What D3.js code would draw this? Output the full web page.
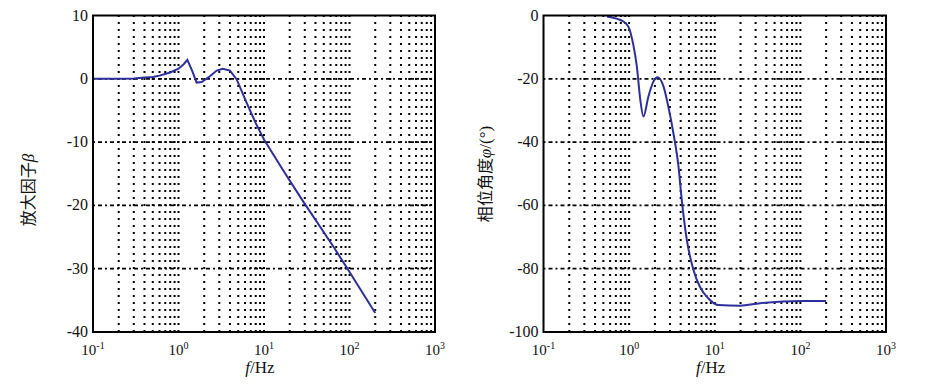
<!DOCTYPE html>
<html>
<head>
<meta charset="utf-8">
<script src="https://cdn.jsdelivr.net/npm/d3@7"></script>
<style>
  body { margin: 0; background: #fff; }
  svg { display: block; }
  .tick-label { font-family: "Liberation Serif", "DejaVu Serif", serif; font-size: 15px; fill: #111; }
  .ytick { font-size: 16px; }
  .axis-title { font-family: "Liberation Serif", serif; font-size: 17px; fill: #111; }
  .cjk { font-family: "Noto Sans CJK SC", sans-serif; font-size: 16px; }
</style>
</head>
<body>
<div id="chart"></div>
<script>
//------------------------------DATA------------------------------//
// amplitude (left panel)
var ampFreq = [0.1, 0.2, 0.3, 0.4, 0.5, 0.6, 0.8, 1.0, 1.15, 1.27, 1.45, 1.63, 1.87, 2.33, 2.8, 3.29, 4.0, 4.79, 5.5, 6.27, 8, 10, 16.8, 28.8, 64.7, 96.8, 200];
var ampBeta = [0, 0, 0.05, 0.2, 0.3, 0.5, 1.0, 1.6, 2.3, 3.0, 1.2, -0.6, -0.5, 0.4, 1.3, 1.6, 1.3, -0.1, -2.0, -3.8, -7.0, -9.6, -14.5, -19.4, -26.5, -30.2, -37];

// phase (right panel)
var phaseFreq = [0.55, 0.86, 0.98, 1.12, 1.23, 1.35, 1.47, 1.68, 1.92, 2.14, 2.52, 2.87, 3.29, 3.77, 4.12, 4.72, 5.64, 6.7, 8.44, 11, 19.8, 33.8, 108, 200];
var phasePhi = [-0.3, -1.9, -3.5, -9.3, -16.1, -26.6, -31.9, -25.6, -20.9, -19.5, -22.4, -28.8, -37.2, -47.7, -58.3, -70.9, -80.4, -85.7, -89.4, -91.5, -91.7, -90.9, -90.2, -90.2];

var decades = [0.1, 1, 10, 100, 1000];
var decadeExp = ["-1", "0", "1", "2", "3"];
var ampTicks = [10, 0, -10, -20, -30, -40];
var phaseTicks = [0, -20, -40, -60, -80, -100];

//------------------------------SVG-------------------------------//
var W = 929, H = 388;
var svg = d3.select("#chart").append("svg")
    .attr("width", W)
    .attr("height", H);

var lineColor = "#2e2f9c";

// minor grid values 2..9 per decade plus decades themselves
var gridX = [];
for (var e = -1; e < 3; e++) {
    for (var m = 1; m <= 9; m++) {
        if (e === -1 && m === 1) continue;
        gridX.push(m * Math.pow(10, e));
    }
}

function drawPanel(opt) {
    var x = d3.scaleLog().domain([0.1, 1000]).range([opt.left, opt.right]);
    var y = d3.scaleLinear().domain(opt.yDomain).range([opt.bottom, opt.top]);
    var g = svg.append("g");

    // vertical dotted grid
    g.selectAll(".vgrid")
        .data(gridX)
        .enter().append("line")
        .attr("x1", function(d) { return x(d); })
        .attr("x2", function(d) { return x(d); })
        .attr("y1", opt.bottom)
        .attr("y2", opt.top)
        .attr("stroke", "#000")
        .attr("stroke-width", 2)
        .attr("stroke-dasharray", "2,5");

    // horizontal grid at the major y ticks
    g.selectAll(".hgrid")
        .data(opt.yTicks.slice(1, -1))
        .enter().append("line")
        .attr("x1", opt.left)
        .attr("x2", opt.right)
        .attr("y1", function(d) { return y(d); })
        .attr("y2", function(d) { return y(d); })
        .attr("stroke", "#000")
        .attr("stroke-width", 1.8)
        .attr("stroke-dasharray", "2,3,4,3");

    // curve
    var line = d3.line()
        .x(function(d) { return x(d[0]); })
        .y(function(d) { return y(d[1]); })
        .curve(opt.curve);

    g.append("path")
        .datum(d3.zip(opt.xs, opt.ys))
        .attr("d", line)
        .attr("fill", "none")
        .attr("stroke", lineColor)
        .attr("stroke-width", 2);

    // frame
    g.append("rect")
        .attr("x", opt.left)
        .attr("y", opt.top)
        .attr("width", opt.right - opt.left)
        .attr("height", opt.bottom - opt.top)
        .attr("fill", "none")
        .attr("stroke", "#000")
        .attr("stroke-width", 2);

    // y tick labels
    g.selectAll(".ylab")
        .data(opt.yTicks)
        .enter().append("text")
        .attr("class", "tick-label ytick")
        .attr("x", opt.left - 5)
        .attr("y", function(d) { return y(d) + 5; })
        .attr("text-anchor", "end")
        .text(function(d) { return d; });

    // x tick labels 10^n
    var xl = g.selectAll(".xlab")
        .data(decades)
        .enter().append("text")
        .attr("class", "tick-label")
        .attr("x", function(d) { return x(d); })
        .attr("y", 355)
        .attr("text-anchor", "middle");
    xl.append("tspan").text("10");
    xl.append("tspan")
        .attr("dy", -6)
        .style("font-size", "10px")
        .text(function(d, i) { return decadeExp[i]; });

    // x axis title
    var xt = g.append("text")
        .attr("class", "axis-title")
        .attr("x", (opt.left + opt.right) / 2 - 4)
        .attr("y", 373)
        .attr("text-anchor", "middle");
    xt.append("tspan").style("font-style", "italic").text("f");
    xt.append("tspan").text("/Hz");

    // y axis title
    var yt = g.append("text")
        .attr("class", "axis-title")
        .attr("transform", "translate(" + opt.yTitleX + "," + opt.yTitleY + ") rotate(-90)")
        .attr("text-anchor", "middle");
    yt.append("tspan").attr("class", "cjk").text(opt.yTitleCjk);
    yt.append("tspan").style("font-style", "italic").text(opt.yTitleSym);
    if (opt.yTitleRest) yt.append("tspan").text(opt.yTitleRest);
}

drawPanel({
    left: 93, right: 435, top: 15.5, bottom: 332,
    yDomain: [-40, 10], yTicks: ampTicks,
    xs: ampFreq, ys: ampBeta, curve: d3.curveLinear,
    yTitleX: 34, yTitleY: 190, yTitleCjk: "放大因子", yTitleSym: "β"
});

drawPanel({
    left: 543.5, right: 886, top: 15.5, bottom: 332,
    yDomain: [-100, 0], yTicks: phaseTicks,
    xs: phaseFreq, ys: phasePhi, curve: d3.curveMonotoneX,
    yTitleX: 491, yTitleY: 174, yTitleCjk: "相位角度", yTitleSym: "φ", yTitleRest: "/(°)"
});
</script>
</body>
</html>
